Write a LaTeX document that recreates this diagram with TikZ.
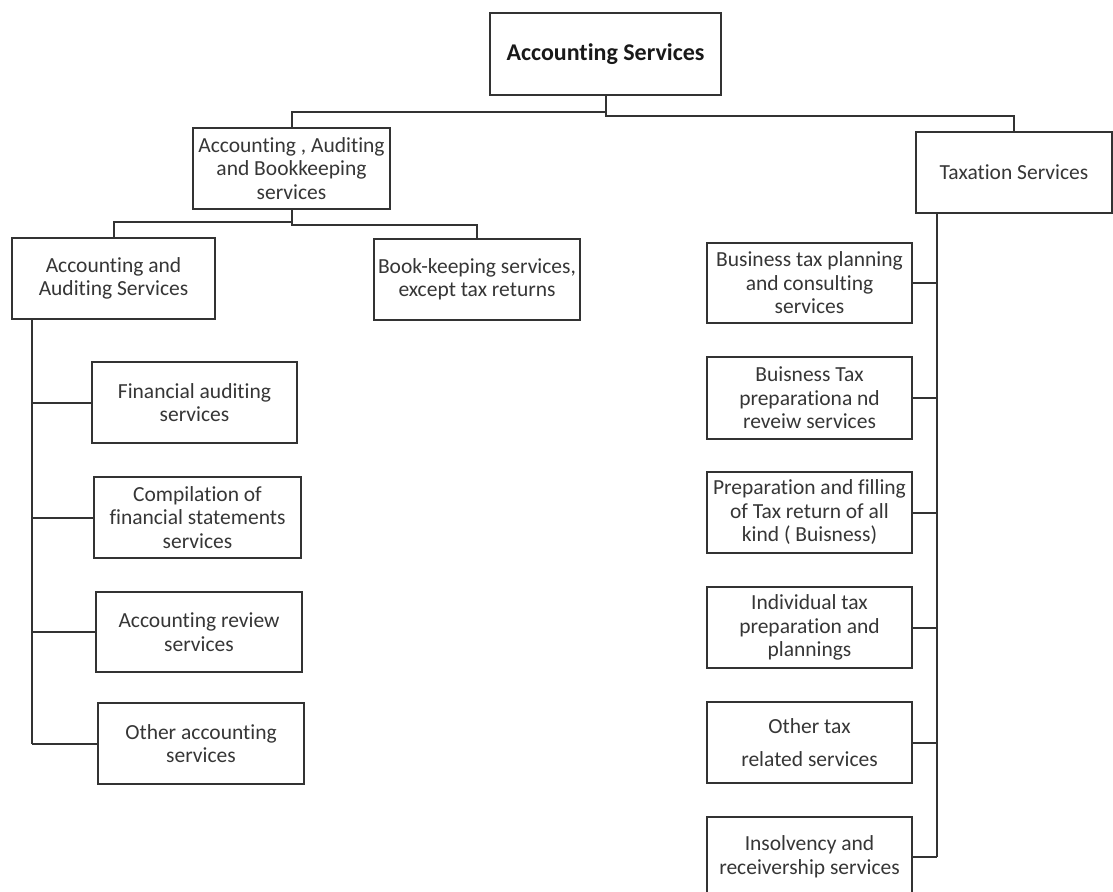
\documentclass[tikz,border=0pt]{standalone}
\usepackage{fontspec}
\setmainfont{Carlito}[Ligatures=NoCommon]
\definecolor{linec}{HTML}{333333}
\definecolor{textc}{HTML}{363636}
\tikzset{
  box/.style={draw=linec, line width=1.7pt, rectangle, inner sep=0pt, align=center,
    text=textc, font=\fontsize{21.5}{23.5}\selectfont},
  link/.style={draw=linec, line width=2pt},
}
\begin{document}
\begin{tikzpicture}[x=1pt, y=-1pt]
  \useasboundingbox (0,0) rectangle (1113,891);
  \clip (0,0) rectangle (1113,891);
  \fill[white] (0,0) rectangle (1113,891);

  % top level
  \node[box, minimum width=231pt, minimum height=82pt, font=\fontsize{24}{28}\selectfont\bfseries, text=black!90]
    (root) at (605.5,54) {Accounting Services};
  \node[box, minimum width=197pt, minimum height=81pt] (aab) at (291.5,168.5)
    {Accounting , Auditing\\and Bookkeeping\\services};
  \node[box, minimum width=196pt, minimum height=81pt] (tax) at (1014,172.5)
    {Taxation Services};

  % accounting branch
  \node[box, minimum width=203pt, minimum height=81pt] (aa) at (113.5,278.5)
    {Accounting and\\Auditing Services};
  \node[box, minimum width=206pt, minimum height=81pt] (bk) at (477,279.5)
    {Book-keeping services,\\except tax returns};
  \node[box, minimum width=205pt, minimum height=81pt] (fa) at (194.5,402.5)
    {Financial auditing\\services};
  \node[box, minimum width=207pt, minimum height=81pt] (cf) at (197.5,517.5)
    {Compilation of\\financial statements\\services};
  \node[box, minimum width=206pt, minimum height=80pt] (ar) at (199,632)
    {Accounting review\\services};
  \node[box, minimum width=206pt, minimum height=81pt] (oa) at (201,743.5)
    {Other accounting\\services};

  % taxation branch
  \node[box, minimum width=205pt, minimum height=80pt] (btp) at (809.5,283)
    {Business tax planning\\and consulting\\services};
  \node[box, minimum width=205pt, minimum height=82pt] (btr) at (809.5,398)
    {Buisness Tax\\preparationa nd\\reveiw services};
  \node[box, minimum width=205pt, minimum height=81pt] (pf) at (809.5,512.5)
    {Preparation and filling\\of Tax return of all\\kind ( Buisness)};
  \node[box, minimum width=205pt, minimum height=81pt] (it) at (809.5,627.5)
    {Individual tax\\preparation and\\plannings};
  \node[box, minimum width=205pt, minimum height=81pt] (ot) at (809.5,742.5)
    {Other tax\\[10pt]related services};
  \node[box, minimum width=205pt, minimum height=80pt] (ins) at (809.5,857)
    {Insolvency and\\receivership services};

  % connectors
  \draw[link] (root.south) -- ++(0,20) -| (tax.north);
  \draw[link] (root.south) ++(0,16) -| (aab.north);
  \draw[link] (aab.south) -- ++(0,12) -| (aa.north);
  \draw[link] (aab.south) -- ++(0,15) -| (bk.north);

  \coordinate (lspine) at (32,0);
  \draw[link] (aa.south -| lspine) -- (oa.west -| lspine);
  \foreach \n in {fa,cf,ar,oa} \draw[link] (\n.west) -- (\n.west -| lspine);

  \coordinate (tspine) at (937,0);
  \draw[link] (tax.south -| tspine) -- (ins.east -| tspine);
  \foreach \n in {btp,btr,pf,it,ot,ins} \draw[link] (\n.east) -- (\n.east -| tspine);
\end{tikzpicture}
\end{document}
